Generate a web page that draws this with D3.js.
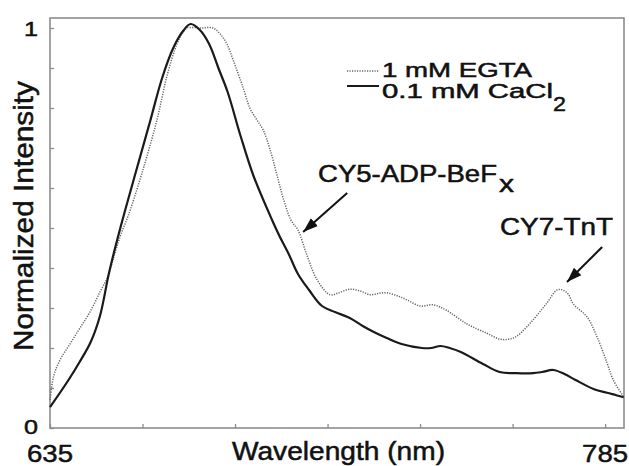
<!DOCTYPE html>
<html>
<head>
<meta charset="utf-8">
<script src="https://cdn.jsdelivr.net/npm/d3@7"></script>
<style>
  body { margin: 0; background: #fff; }
  text { font-family: "Liberation Sans", Arial, sans-serif; fill: #111; stroke: #111; stroke-width: 0.5; }
</style>
</head>
<body>
<div id="chart"></div>
<script>
// wavelength (nm) and normalized intensity
const egtaWave = [635, 636, 637.7, 640.4, 643.1, 645.8, 648.5, 650.7, 652, 654, 656.3, 660.1, 663.9, 666.6, 669.3, 671, 672, 676, 679, 681, 682.8, 684.5, 687.2, 689, 690.9, 692.6, 694.5, 696.4, 698, 700.1, 702, 704.5, 707.2, 710.7, 713, 716, 719, 721.5, 724, 726, 729, 731.5, 735, 738.5, 742, 747.7, 753, 756.6, 759, 761.2, 765.5, 769.3, 772, 773.5, 775, 776.4, 780.1, 782.8, 785.5, 787.2, 790]
const egtaVal  = [0.07, 0.13, 0.17, 0.21, 0.25, 0.29, 0.34, 0.38, 0.42, 0.48, 0.535, 0.645, 0.77, 0.88, 0.96, 0.99, 1.0, 1.0, 1.0, 0.985, 0.96, 0.92, 0.85, 0.8, 0.77, 0.745, 0.695, 0.63, 0.575, 0.52, 0.495, 0.43, 0.37, 0.333, 0.338, 0.347, 0.342, 0.333, 0.337, 0.338, 0.33, 0.32, 0.305, 0.308, 0.295, 0.26, 0.237, 0.222, 0.222, 0.23, 0.27, 0.313, 0.345, 0.345, 0.335, 0.31, 0.278, 0.228, 0.163, 0.12, 0.078]

const caWave = [635, 640, 643, 646, 648.5, 651, 654, 658.5, 662, 665.3, 668.3, 671, 673, 675.5, 678, 680.5, 683, 686.5, 690, 695, 697, 699.5, 702, 705, 708.5, 712, 716, 719.5, 722.5, 726, 730, 735.5, 738, 740.5, 743, 746, 752, 756.5, 761, 765.5, 768, 771, 774, 777, 782, 785.5, 788, 790]
const caVal  = [0.052, 0.12, 0.165, 0.215, 0.28, 0.39, 0.5, 0.65, 0.765, 0.875, 0.95, 0.993, 1.01, 0.995, 0.96, 0.9, 0.84, 0.73, 0.63, 0.52, 0.48, 0.435, 0.385, 0.345, 0.305, 0.29, 0.275, 0.255, 0.24, 0.225, 0.21, 0.2, 0.2, 0.205, 0.2, 0.19, 0.16, 0.14, 0.137, 0.137, 0.14, 0.145, 0.135, 0.12, 0.097, 0.088, 0.082, 0.077]

const xTicks = [635, 660, 685, 710, 735, 760, 785]
const xTickLabels = ["635", "", "", "", "", "", "785"]
const yTicks = [0, 0.1, 0.2, 0.3, 0.4, 0.5, 0.6, 0.7, 0.8, 0.9, 1]
const yTickLabels = ["0", "", "", "", "", "", "", "", "", "", "1"]

const width = 629
const height = 466
const margin = { left: 50, top: 18, right: 5, bottom: 38 }

const x = d3.scaleLinear()
              .domain([635, 790.1])
              .range([margin.left, width - margin.right])
const y = d3.scaleLinear()
              .domain([0, 1.025])
              .range([height - margin.bottom, margin.top])

const svg = d3.select("#chart")
              .append("svg")
                .attr("width", width)
                .attr("height", height)

const frameColor = "#8c8c8c"

// ticks (inside the frame)
const xAxis = d3.axisBottom(x).tickValues(xTicks).tickSize(-4).tickFormat("")
const yAxis = d3.axisLeft(y).tickValues(yTicks).tickSize(-4).tickFormat("")

const gx = svg.append("g")
    .attr("transform", "translate(0," + y(0) + ")")
    .call(xAxis)
const gy = svg.append("g")
    .attr("transform", "translate(" + x(635) + ",0)")
    .call(yAxis)
gx.select(".domain").remove()
gy.select(".domain").remove()
svg.selectAll(".tick line").attr("stroke", frameColor).attr("stroke-width", 1.3)

// frame
svg.append("rect")
    .attr("x", x(635))
    .attr("y", margin.top)
    .attr("width", x(790.1) - x(635))
    .attr("height", y(0) - margin.top)
    .attr("fill", "none")
    .attr("stroke", frameColor)
    .attr("stroke-width", 1.6)

// tick labels
xTicks.forEach((t, i) => {
  if (!xTickLabels[i]) return
  svg.append("text")
      .text(xTickLabels[i])
      .attr("x", x(t))
      .attr("y", 462)
      .attr("text-anchor", "middle")
      .attr("font-size", 24)
      .attr("textLength", 46)
      .attr("lengthAdjust", "spacingAndGlyphs")
})
yTicks.forEach((t, i) => {
  if (!yTickLabels[i]) return
  svg.append("text")
      .text(yTickLabels[i])
      .attr("x", 38)
      .attr("y", t === 0 ? y(t) + 6 : y(t) + 8)
      .attr("text-anchor", "end")
      .attr("font-size", 21)
      .attr("textLength", 14)
      .attr("lengthAdjust", "spacingAndGlyphs")
})

// axis titles
svg.append("text")
    .text("Wavelength (nm)")
    .attr("x", 232)
    .attr("y", 460)
    .attr("font-size", 25)
    .attr("textLength", 213)
    .attr("lengthAdjust", "spacingAndGlyphs")

svg.append("text")
    .text("Normalized Intensity")
    .attr("text-anchor", "middle")
    .attr("font-size", 28)
    .attr("textLength", 270)
    .attr("lengthAdjust", "spacingAndGlyphs")
    .attr("transform", "translate(33,216)rotate(-90)")

// curves
const line = d3.line()
                .x(d => x(d[0]))
                .y(d => y(d[1]))
                .curve(d3.curveCatmullRom.alpha(0.5))

svg.append("path")
    .datum(egtaWave.map((w, i) => [w, egtaVal[i]]))
    .attr("d", line)
    .attr("fill", "none")
    .attr("stroke", "#666")
    .attr("stroke-width", 1.5)
    .attr("stroke-dasharray", "1.2,1.3")

svg.append("path")
    .datum(caWave.map((w, i) => [w, caVal[i]]))
    .attr("d", line)
    .attr("fill", "none")
    .attr("stroke", "#1a1a1a")
    .attr("stroke-width", 2.2)

// Legend
svg.append("line")
    .attr("x1", 347).attr("x2", 379).attr("y1", 71).attr("y2", 71)
    .attr("stroke", "#666").attr("stroke-width", 1.5).attr("stroke-dasharray", "1.2,1.3")
svg.append("text")
    .text("1 mM EGTA")
    .attr("x", 382).attr("y", 77)
    .attr("font-size", 20)
    .attr("textLength", 150)
    .attr("lengthAdjust", "spacingAndGlyphs")

svg.append("line")
    .attr("x1", 347).attr("x2", 379).attr("y1", 86).attr("y2", 86)
    .attr("stroke", "#1a1a1a").attr("stroke-width", 2)
svg.append("text")
    .text("0.1 mM CaCl")
    .attr("x", 382).attr("y", 98)
    .attr("font-size", 20)
    .attr("textLength", 171)
    .attr("lengthAdjust", "spacingAndGlyphs")
svg.append("text")
    .text("2")
    .attr("x", 553).attr("y", 111)
    .attr("font-size", 21)
    .attr("textLength", 13)
    .attr("lengthAdjust", "spacingAndGlyphs")

// Annotations with arrows
svg.append("defs").append("marker")
    .attr("id", "head")
    .attr("viewBox", "0 0 10 10")
    .attr("refX", 10).attr("refY", 5)
    .attr("markerWidth", 15).attr("markerHeight", 15)
    .attr("markerUnits", "userSpaceOnUse")
    .attr("orient", "auto")
  .append("path")
    .attr("d", "M0,1.5 L10,5 L0,8.5 Z")
    .attr("fill", "#111")

const arrows = [
  { from: [715.3, 0.5875], to: [703.4, 0.49] },
  { from: [784.2, 0.4525], to: [774.7, 0.365] }
]
arrows.forEach(a => {
  svg.append("line")
      .attr("x1", x(a.from[0])).attr("y1", y(a.from[1]))
      .attr("x2", x(a.to[0])).attr("y2", y(a.to[1]))
      .attr("stroke", "#111")
      .attr("stroke-width", 2)
      .attr("marker-end", "url(#head)")
})

svg.append("text")
    .text("CY5-ADP-BeF")
    .attr("x", 318).attr("y", 182)
    .attr("font-size", 24)
    .attr("textLength", 179)
    .attr("lengthAdjust", "spacingAndGlyphs")
svg.append("text")
    .text("x")
    .attr("x", 499).attr("y", 192)
    .attr("font-size", 24)
    .attr("textLength", 15)
    .attr("lengthAdjust", "spacingAndGlyphs")

svg.append("text")
    .text("CY7-TnT")
    .attr("x", 500).attr("y", 235)
    .attr("font-size", 24)
    .attr("textLength", 113)
    .attr("lengthAdjust", "spacingAndGlyphs")
</script>
</body>
</html>
